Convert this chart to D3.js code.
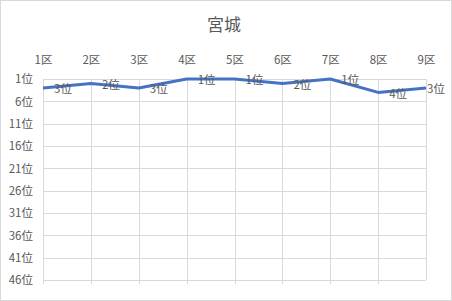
<!DOCTYPE html>
<html>
<head>
<meta charset="utf-8">
<script src="https://cdn.jsdelivr.net/npm/d3@7"></script>
<style>
  body { margin: 0; background: #fff; }
  text { font-family: "Noto Sans CJK JP", "Noto Sans", sans-serif; fill: #595959; }
</style>
</head>
<body>
<svg id="chart" width="452" height="301"></svg>
<script>
// 宮城 - 各区の順位
var title = "宮城";
var districts = ["1区", "2区", "3区", "4区", "5区", "6区", "7区", "8区", "9区"];
var ranks = [3, 2, 3, 1, 1, 2, 1, 4, 3];
var rankTicks = [1, 6, 11, 16, 21, 26, 31, 36, 41, 46];

var svg = d3.select("#chart"),
    W = +svg.attr("width"),
    H = +svg.attr("height"),
    margin = {top: 79, right: 26, bottom: 21, left: 43};

var grid = "#d9d9d9";

// outer border
svg.append("rect")
  .attr("x", 0.5).attr("y", 0.5)
  .attr("width", W - 1).attr("height", H - 1)
  .attr("fill", "#fff").attr("stroke", grid);

var x = d3.scalePoint()
  .domain(districts)
  .range([margin.left, W - margin.right]);

// reversed: rank 1 on top
var y = d3.scaleLinear()
  .domain([1, 46])
  .range([margin.top, H - margin.bottom]);

// horizontal gridlines
svg.append("g")
  .selectAll("line")
  .data(rankTicks)
  .join("line")
    .attr("x1", x(districts[0])).attr("x2", x(districts[districts.length - 1]))
    .attr("y1", d => Math.round(y(d)) + 0.5).attr("y2", d => Math.round(y(d)) + 0.5)
    .attr("stroke", grid);

// vertical gridlines (small tick below the last row, not on the last category)
svg.append("g")
  .selectAll("line")
  .data(districts)
  .join("line")
    .attr("x1", d => Math.round(x(d)) + 0.5).attr("x2", d => Math.round(x(d)) + 0.5)
    .attr("y1", y(1))
    .attr("y2", (d, i) => i < districts.length - 1 ? y(46) + 4 : y(46))
    .attr("stroke", grid);

// y axis labels
var yAxis = d3.axisLeft(y).tickValues(rankTicks).tickFormat(d => d + "位").tickSize(0).tickPadding(10);
svg.append("g")
  .attr("transform", "translate(" + margin.left + ",0)")
  .call(yAxis)
  .call(g => g.select(".domain").remove())
  .selectAll("text")
    .attr("font-size", 11.5)
    .attr("font-family", null)
    .attr("fill", null);

// x axis on top
var xAxis = d3.axisTop(x).tickSize(0).tickPadding(0);
svg.append("g")
  .attr("transform", "translate(0,64)")
  .call(xAxis)
  .call(g => g.select(".domain").remove())
  .selectAll("text")
    .attr("font-size", 11.5)
    .attr("font-family", null)
    .attr("fill", null);

svg.append("text")
  .attr("x", W / 2 - 2)
  .attr("y", 31)
  .attr("text-anchor", "middle")
  .attr("font-size", 17)
  .text(title);

var line = d3.line()
  .x((d, i) => x(districts[i]))
  .y(d => y(d));

svg.append("path")
  .datum(ranks)
  .attr("d", line)
  .attr("fill", "none")
  .attr("stroke", "#4472C4")
  .attr("stroke-width", 3)
  .attr("stroke-linejoin", "round");

// data labels to the right of each point, kept inside the chart
svg.append("g")
  .selectAll("text")
  .data(ranks)
  .join("text")
    .attr("font-size", 11.5)
    .attr("dy", "0.38em")
    .attr("y", d => y(d) + 1)
    .text(d => d + "位")
    .attr("x", function (d, i) {
      var w = this.getComputedTextLength();
      return Math.min(x(districts[i]) + 11, W - 7 - w);
    });
</script>
</body>
</html>
